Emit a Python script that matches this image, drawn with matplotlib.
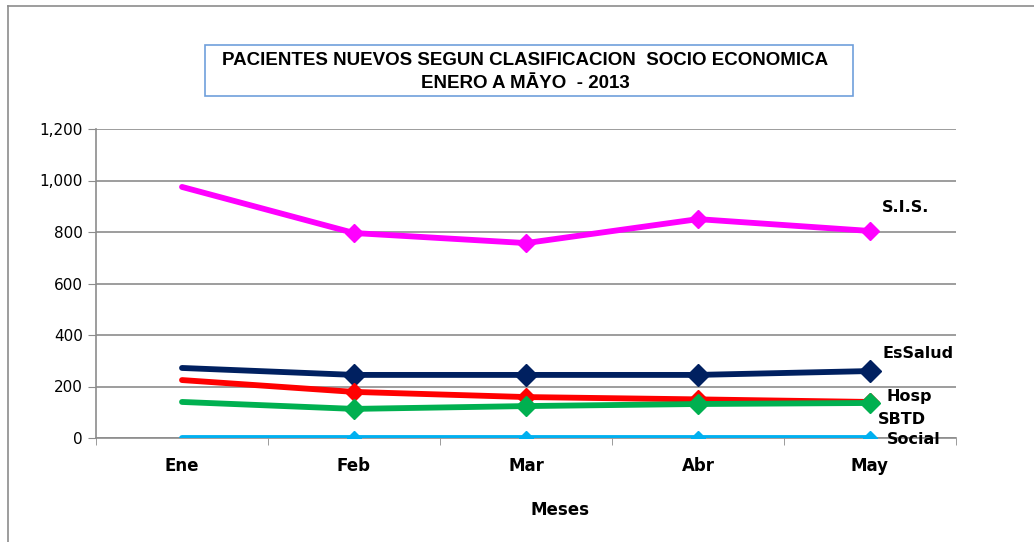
import matplotlib
matplotlib.use("Agg")
import matplotlib.pyplot as plt
from matplotlib.lines import Line2D

months = ["Ene", "Feb", "Mar", "Abr", "May"]
sis = [975, 796, 757, 850, 804]
essalud = [272, 245, 245, 245, 260]
hosp = [225, 179, 159, 150, 140]
sbtd = [140, 113, 124, 132, 136]
social = [0, 0, 0, 0, 0]

series = [
    ("S.I.S.", sis, "#ff00ff", 12),
    ("EsSalud", essalud, "#002060", 15),
    ("Hosp", hosp, "#ff0000", 12),
    ("SBTD", sbtd, "#00b050", 13),
    ("Social", social, "#00b0f0", 9),
]
label_pos = {"S.I.S.": (882, 208), "EsSalud": (882, 353), "Hosp": (887, 396),
             "SBTD": (878, 419), "Social": (887, 439)}

W, H = 1034, 542
fig = plt.figure(figsize=(W / 100, H / 100), dpi=100)
ax = fig.add_axes([96 / W, 1 - 438 / H, (956 - 96) / W, (438 - 129) / H])

x = list(range(len(months)))
for name, vals, col, ms in series:
    ax.plot(x, vals, color=col, lw=4.2, solid_capstyle="round",
            marker="D", ms=ms * 0.75, markevery=[1, 2, 3, 4],
            mec=col, mfc=col, zorder=3)

ax.set_xlim(-0.5, 4.5)
ax.set_ylim(0, 1200)
ax.set_yticks(range(0, 1201, 200))
ax.set_yticklabels(["{:,}".format(v) for v in range(0, 1201, 200)],
                   fontsize=11, family="DejaVu Sans")
ax.yaxis.grid(True, color="#8c8c8c", lw=1.2)
ax.set_axisbelow(True)
ax.set_xticks(x)
ax.set_xticklabels(months, fontsize=12, fontweight="bold")
ax.set_xticks([i - 0.5 for i in range(6)], minor=True)
ax.tick_params(axis="x", which="major", length=0, pad=14)
ax.tick_params(axis="x", which="minor", length=5, color="#8c8c8c", direction="out")
ax.tick_params(axis="y", length=6, color="#8c8c8c", direction="out")
for s in ["top", "right"]:
    ax.spines[s].set_visible(False)
ax.spines["left"].set_color("#8c8c8c")
ax.spines["bottom"].set_color("#8c8c8c")
ax.spines["left"].set_linewidth(1.2)
ax.spines["bottom"].set_linewidth(1.2)

for name, (px, py) in label_pos.items():
    fig.text(px / W, 1 - py / H, name, fontsize=11.5, fontweight="bold",
             ha="left", va="center")

fig.text(560 / W, 1 - 510 / H, "Meses", fontsize=12, fontweight="bold",
         ha="center", va="center")

fig.text(525 / W, 1 - 72 / H,
         "PACIENTES NUEVOS SEGUN CLASIFICACION  SOCIO ECONOMICA\nENERO A M\u0100YO  - 2013",
         fontsize=13.5, fontweight="bold", ha="center", va="center",
         family="Liberation Sans", linespacing=1.45)
fig.patches.append(plt.Rectangle((205 / W, 1 - 96 / H), (853 - 205) / W, 51 / H,
                                 transform=fig.transFigure, fill=False,
                                 ec="#6f9fdb", lw=1.2))

fig.lines.append(Line2D([8 / W, 8 / W], [0, 1 - 6 / H], transform=fig.transFigure,
                        color="#8c8c8c", lw=1.2))
fig.lines.append(Line2D([8 / W, 1], [1 - 6 / H, 1 - 6 / H], transform=fig.transFigure,
                        color="#8c8c8c", lw=1.2))

fig.savefig("out.png", dpi=100)
